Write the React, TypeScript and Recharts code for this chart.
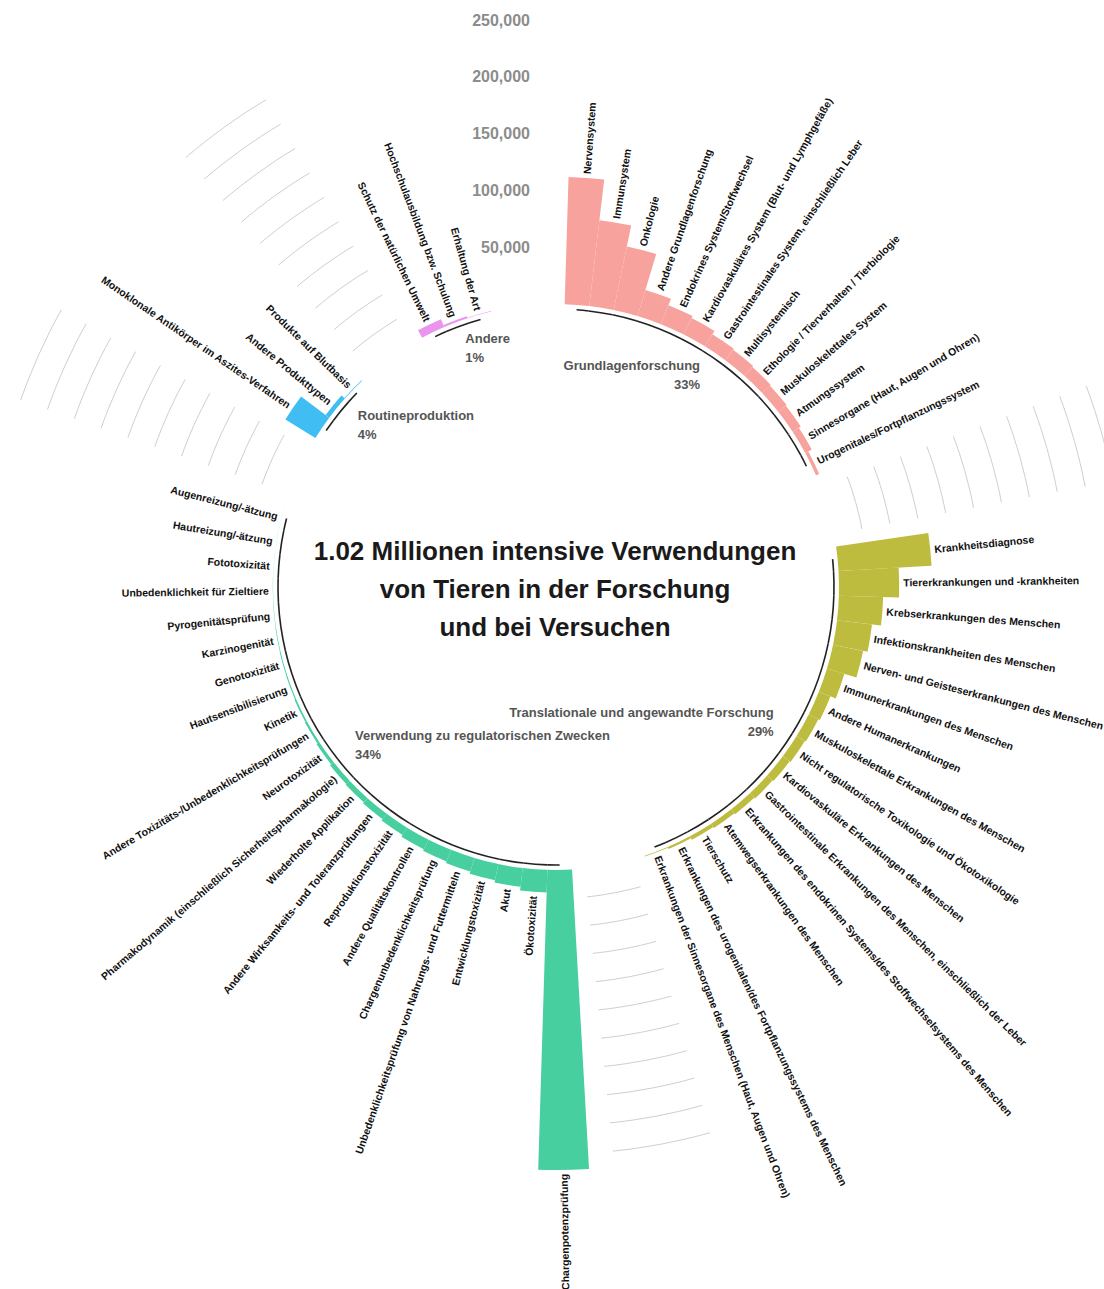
import React from "react"
import { RadialBarChart, RadialBar, PolarAngleAxis, PolarRadiusAxis, Sector } from "recharts"

const FONT = "'Liberation Sans', Arial, sans-serif"

const groupNames = [
  "Grundlagenforschung",
  "Translationale und angewandte Forschung",
  "Verwendung zu regulatorischen Zwecken",
  "Routineproduktion",
  "Andere",
]
const groupShares = ["33%", "29%", "34%", "4%", "1%"]
const groupColors = ["#F7A29C", "#BEBC3F", "#47CFA0", "#40BDF2", "#E994EE"]

const basicLabels = [
  "Nervensystem",
  "Immunsystem",
  "Onkologie",
  "Andere Grundlagenforschung",
  "Endokrines System/Stoffwechsel",
  "Kardiovaskuläres System (Blut- und Lymphgefäße)",
  "Gastrointestinales System, einschließlich Leber",
  "Multisystemisch",
  "Ethologie / Tierverhalten / Tierbiologie",
  "Muskuloskelettales System",
  "Atmungssystem",
  "Sinnesorgane (Haut, Augen und Ohren)",
  "Urogenitales/Fortpflanzungssystem",
]
const basicValues = [112000, 76000, 57000, 24000, 18000, 16000, 12500, 11500, 10500, 9500, 8500, 6500, 3000]

const transLabels = [
  "Krankheitsdiagnose",
  "Tiererkrankungen und -krankheiten",
  "Krebserkrankungen des Menschen",
  "Infektionskrankheiten des Menschen",
  "Nerven- und Geisteserkrankungen des Menschen",
  "Immunerkrankungen des Menschen",
  "Andere Humanerkrankungen",
  "Muskuloskelettale Erkrankungen des Menschen",
  "Nicht regulatorische Toxikologie und Ökotoxikologie",
  "Kardiovaskuläre Erkrankungen des Menschen",
  "Gastrointestinale Erkrankungen des Menschen, einschließlich der Leber",
  "Erkrankungen des endokrinen Systems/des Stoffwechselsystems des Menschen",
  "Atemwegserkrankungen des Menschen",
  "Tierschutz",
  "Erkrankungen des urogenitalen/des Fortpflanzungssystems des Menschen",
  "Erkrankungen der Sinnesorgane des Menschen (Haut, Augen und Ohren)",
]
const transValues = [82000, 53000, 39000, 31000, 27000, 16000, 11000, 9500, 8500, 7500, 6500, 5500, 4500, 3500, 2000, 600]

const regLabels = [
  "Chargenpotenzprüfung",
  "Ökotoxizität",
  "Akut",
  "Entwicklungstoxizität",
  "Unbedenklichkeitsprüfung von Nahrungs- und Futtermitteln",
  "Chargenunbedenklichkeitsprüfung",
  "Andere Qualitätskontrollen",
  "Reproduktionstoxizität",
  "Andere Wirksamkeits- und Toleranzprüfungen",
  "Wiederholte Applikation",
  "Pharmakodynamik (einschließlich Sicherheitspharmakologie)",
  "Neurotoxizität",
  "Andere Toxizitäts-/Unbedenklichkeitsprüfungen",
  "Kinetik",
  "Hautsensibilisierung",
  "Genotoxizität",
  "Karzinogenität",
  "Pyrogenitätsprüfung",
  "Unbedenklichkeit für Zieltiere",
  "Fototoxizität",
  "Hautreizung/-ätzung",
  "Augenreizung/-ätzung",
]
const regValues = [264000, 20000, 16500, 14500, 12500, 11000, 9500, 7500, 6000, 5000, 4200, 3000, 2000, 1500, 1000, 800, 500, 300, 200, 100, 80, 50]

const routineLabels = ["Monoklonale Antikörper im Aszites-Verfahren", "Andere Produkttypen", "Produkte auf Blutbasis"]
const routineValues = [31000, 4000, 600]

const otherLabels = ["Schutz der natürlichen Umwelt", "Hochschulausbildung bzw. Schulung", "Erhaltung der Art"]
const otherValues = [7500, 1800, 400]

const radiusTicks = [50000, 100000, 150000, 200000, 250000]
const gridSteps = [25000, 50000, 75000, 100000, 125000, 150000, 175000, 200000, 225000, 250000]
const titleLines = ["1.02 Millionen intensive Verwendungen", "von Tieren in der Forschung", "und bei Versuchen"]

const GAP = 3
const GRID_TOP = gridSteps[gridSteps.length - 1]
// the whole ring sits a little clockwise of 12 o'clock
const TURN = 2

const groups = [
  { labels: basicLabels, values: basicValues },
  { labels: transLabels, values: transValues },
  { labels: regLabels, values: regValues },
  { labels: routineLabels, values: routineValues },
  { labels: otherLabels, values: otherValues },
]

const table: any[] = []
groups.forEach((g, gi) => {
  g.labels.forEach((name, i) => {
    table.push({ id: `b${gi}-${i}`, name, value: g.values[i], group: gi, pos: i, count: g.labels.length })
  })
  const lastGap = gi === groups.length - 1
  for (let k = 0; k < GAP; k++) {
    table.push({ id: `g${gi}-${k}`, name: "", value: lastGap ? 0 : GRID_TOP, gap: lastGap ? 0 : k + 1, group: -1 })
  }
})

const BAND = 360 / table.length
const RAD = Math.PI / 180

const pt = (cx: number, cy: number, r: number, a: number) => [cx + r * Math.cos(-a * RAD), cy + r * Math.sin(-a * RAD)]

function arc(cx: number, cy: number, r: number, a0: number, a1: number) {
  const [x0, y0] = pt(cx, cy, r, a0)
  const [x1, y1] = pt(cx, cy, r, a1)
  const sweep = a1 < a0 ? 1 : 0
  return `M${x0},${y0}A${r},${r} 0 0 ${sweep} ${x1},${y1}`
}

function BarShape(props: any) {
  const { cx, cy, innerRadius, outerRadius, startAngle, endAngle } = props
  const d = props.payload ?? props
  const mid = (startAngle + endAngle) / 2

  if (d.group === -1) {
    if (!d.gap) return <g />
    const a0 = d.gap === 1 ? mid : mid + BAND / 2
    const a1 = d.gap === GAP ? mid : mid - BAND / 2
    return (
      <g>
        {gridSteps.map((s) => {
          const r = innerRadius + ((outerRadius - innerRadius) * s) / GRID_TOP
          return <path key={s} d={arc(cx, cy, r, a0, a1)} stroke="#cfcfcf" strokeWidth={1} fill="none" />
        })}
      </g>
    )
  }

  const theta = (((90 - mid) % 360) + 360) % 360
  const flip = theta >= 170
  const [lx, ly] = pt(cx, cy, outerRadius + 4, mid)
  const rot = flip ? theta + 90 : theta - 90

  const g0 = d.pos === 0 ? mid : mid + BAND / 2
  const g1 = d.pos === d.count - 1 ? mid : mid - BAND / 2

  let groupLabel = null
  if (d.pos === 0) {
    const ga = mid - ((d.count - 1) / 2) * BAND
    const gTheta = (((90 - ga) % 360) + 360) % 360
    const [gx, gy] = pt(cx, cy, innerRadius - 27, ga)
    const anchor = gTheta < 180 ? "end" : "start"
    groupLabel = (
      <text x={gx} y={gy} textAnchor={anchor} fontFamily={FONT} fontSize={13} fontWeight="bold" fill="#555">
        <tspan x={gx} y={gy - 9.5} dominantBaseline="central">{groupNames[d.group]}</tspan>
        <tspan x={gx} y={gy + 9.5} dominantBaseline="central">{groupShares[d.group]}</tspan>
      </text>
    )
  }

  return (
    <g>
      {outerRadius - innerRadius > 0.01 && (
        <Sector
          cx={cx}
          cy={cy}
          innerRadius={innerRadius}
          outerRadius={outerRadius}
          startAngle={startAngle}
          endAngle={endAngle}
          fill={groupColors[d.group]}
        />
      )}
      {d.count > 1 && <path d={arc(cx, cy, innerRadius - 5, g0, g1)} stroke="#222" strokeWidth={1.6} fill="none" />}
      <text
        x={lx}
        y={ly}
        transform={`rotate(${rot},${lx},${ly})`}
        textAnchor={flip ? "end" : "start"}
        dominantBaseline="central"
        fontFamily={FONT}
        fontSize={10.5}
        fontWeight="bold"
        fill="#111"
      >
        {d.name}
      </text>
      {groupLabel}
    </g>
  )
}

function RadiusTick(props: any) {
  const { x, y, payload } = props
  if (!radiusTicks.includes(payload.value)) return <g />
  return (
    <text x={x - 26} y={y} textAnchor="end" dominantBaseline="central" fontFamily={FONT} fontSize={16} fontWeight="bold" fill="#8c8c8c">
      {payload.value.toLocaleString("en-US")}
    </text>
  )
}

export default function App() {
  return (
    <div style={{ position: "absolute", left: 0, top: 0, width: 1104, height: 1289, background: "#fff" }}>
      <RadialBarChart
        width={1104}
        height={1289}
        data={table}
        layout="centric"
        cx={556}
        cy={587}
        innerRadius={283}
        outerRadius={283 + 1.136 * 300}
        startAngle={90 - BAND - TURN}
        endAngle={-270 - BAND - TURN}
        barCategoryGap="5%"
        margin={{ top: 0, right: 0, bottom: 0, left: 0 }}
      >
        <PolarAngleAxis type="category" dataKey="id" tick={false} axisLine={false} tickLine={false} />
        <PolarRadiusAxis
          type="number"
          angle={90}
          domain={[0, 300000]}
          ticks={radiusTicks}
          axisLine={false}
          tickLine={false}
          tick={RadiusTick}
        />
        <RadialBar dataKey="value" isAnimationActive={false} shape={BarShape} />
      </RadialBarChart>
      <div
        style={{
          position: "absolute",
          left: 555,
          top: 532,
          transform: "translateX(-50%)",
          textAlign: "center",
          fontFamily: FONT,
          fontWeight: "bold",
          fontSize: 26,
          lineHeight: "38px",
          color: "#1a1a1a",
          whiteSpace: "nowrap",
        }}
      >
        {titleLines.map((t) => (
          <div key={t}>{t}</div>
        ))}
      </div>
    </div>
  )
}
